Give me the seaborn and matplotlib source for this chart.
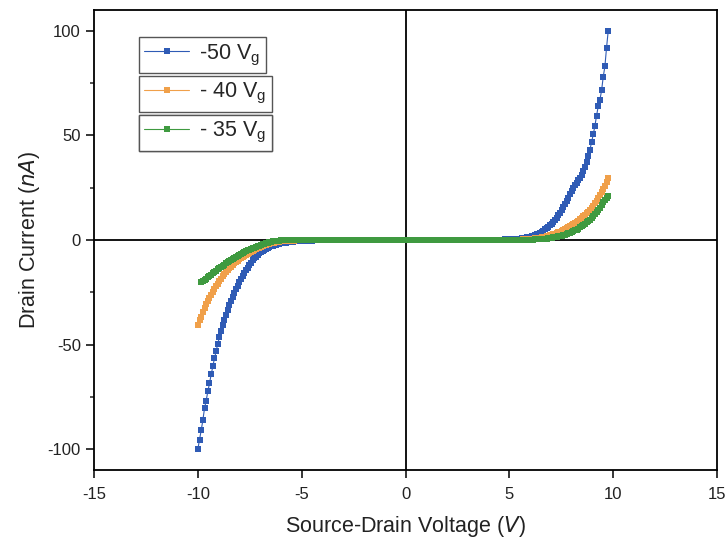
import numpy as np
import pandas as pd
import matplotlib
matplotlib.use("Agg")
import matplotlib.pyplot as plt
from matplotlib.lines import Line2D
from matplotlib.ticker import MultipleLocator
import seaborn as sns

# Sweep grid: source-drain voltage stepped by 0.08 V
V_STEP = 0.08
NEG_START = -10.0   # first point of the negative branch
MID_START = -4.96   # first point of the flat middle part
POS_START = 5.04    # first point of the positive branch

labels = ["-50 V$_{g}$", "- 40 V$_{g}$", "- 35 V$_{g}$"]
colors = ["#2f5bb5", "#f0a04a", "#3f9a40"]

# Drain current (nA), gate -50 V
blue_neg = [
    -100.0, -95.6, -91.0, -86.2, -80.5, -76.8, -72.4, -68.6, -64.3, -60.4,
    -56.6, -53.0, -49.6, -46.4, -43.5, -40.8, -38.2, -35.7, -33.4, -31.2,
    -29.1, -27.1, -25.2, -23.5, -21.8, -20.2, -18.7, -17.2, -15.8, -14.5,
    -13.2, -12.0, -10.9, -9.8, -8.8, -7.9, -7.1, -6.3, -5.7, -5.1,
    -4.6, -4.1, -3.7, -3.3, -3.0, -2.7, -2.4, -2.2, -2.0, -1.8,
    -1.6, -1.4, -1.3, -1.2, -1.1, -1.0, -0.9, -0.8, -0.7, -0.7,
    -0.6, -0.5, -0.5,
]
blue_mid = [
    -0.4, -0.4, -0.4, -0.3, -0.3, -0.3, -0.3, -0.2, -0.2, -0.2,
    -0.2, -0.2, -0.1, -0.1, -0.1, -0.1, -0.1, -0.1, -0.1, -0.1,
    0, 0, 0, 0, 0, 0, 0, 0, 0, 0, 0, 0, 0, 0, 0, 0, 0, 0, 0, 0,
    0, 0, 0, 0, 0, 0, 0, 0, 0, 0, 0, 0, 0, 0, 0, 0, 0, 0, 0, 0,
    0, 0, 0, 0, 0, 0, 0, 0, 0, 0, 0, 0, 0, 0, 0, 0, 0, 0, 0, 0,
    0, 0, 0, 0, 0, 0, 0, 0, 0, 0, 0, 0, 0, 0, 0, 0, 0, 0, 0, 0,
    0.0, 0.0, 0.0, 0.0, 0.0, 0.1, 0.1, 0.1, 0.1, 0.1,
    0.1, 0.1, 0.1, 0.1, 0.1, 0.2, 0.2, 0.2, 0.2, 0.2,
    0.2, 0.2, 0.3, 0.3, 0.3,
]
blue_pos = [
    0.3, 0.3, 0.4, 0.5, 0.5, 0.6, 0.7, 0.8, 0.9, 1.0,
    1.2, 1.4, 1.6, 1.8, 2.0, 2.3, 2.7, 3.1, 3.5, 4.0,
    4.5, 5.1, 5.7, 6.3, 7.0, 7.8, 8.7, 9.6, 10.7, 11.9,
    13.1, 14.4, 15.9, 17.3, 18.8, 20.3, 21.8, 23.3, 24.8, 26.2,
    27.5, 28.6, 29.8, 31.3, 33.0, 35.0, 37.2, 40.0, 43.2, 46.8,
    50.5, 54.6, 59.5, 64.0, 67.0, 71.5, 78.0, 83.0, 92.0, 100.0,
]

# Drain current (nA), gate -40 V
orange_neg = [
    -40.5, -38.4, -36.6, -34.5, -32.4, -30.8, -29.2, -27.5, -26.1, -24.8,
    -23.4, -22.1, -20.9, -19.7, -18.5, -17.4, -16.4, -15.4, -14.4, -13.5,
    -12.7, -11.9, -11.2, -10.5, -9.9, -9.3, -8.7, -8.1, -7.6, -7.1,
    -6.6, -6.1, -5.7, -5.2, -4.8, -4.4, -4.0, -3.6, -3.2, -2.9,
    -2.6, -2.3, -2.0, -1.8, -1.6, -1.4, -1.2, -1.0, -0.9, -0.8,
    -0.7, -0.6, -0.5, -0.5, -0.4, -0.4, -0.3, -0.3, -0.3, -0.2,
    -0.2, -0.2, -0.2,
]
orange_mid = [
    -0.1, -0.1, -0.1, -0.1, -0.1, -0.1, -0.1, -0.1, -0.1, -0.1,
    -0.1, -0.1, -0.1, -0.1, -0.1,
    0, 0, 0, 0, 0, 0, 0, 0, 0, 0, 0, 0, 0, 0, 0, 0, 0, 0, 0, 0,
    0, 0, 0, 0, 0, 0, 0, 0, 0, 0, 0, 0, 0, 0, 0, 0, 0, 0, 0, 0,
    0, 0, 0, 0, 0, 0, 0, 0, 0, 0, 0, 0, 0, 0, 0, 0, 0, 0, 0, 0,
    0, 0, 0, 0, 0, 0, 0, 0, 0, 0, 0, 0, 0, 0, 0, 0, 0, 0, 0, 0,
    0, 0, 0, 0, 0, 0, 0, 0, 0, 0, 0, 0, 0, 0, 0, 0, 0, 0, 0, 0,
    0, 0, 0, 0, 0, 0, 0, 0, 0, 0,
]
orange_pos = [
    0.0, 0.1, 0.1, 0.1, 0.1, 0.2, 0.2, 0.2, 0.3, 0.3,
    0.4, 0.4, 0.5, 0.6, 0.7, 0.8, 0.9, 1.0, 1.1, 1.3,
    1.4, 1.6, 1.8, 2.0, 2.2, 2.5, 2.7, 3.0, 3.3, 3.6,
    4.0, 4.4, 4.8, 5.2, 5.6, 6.1, 6.6, 7.1, 7.6, 8.1,
    8.7, 9.3, 9.9, 10.6, 11.3, 12.0, 12.8, 13.6, 14.5, 15.4,
    16.4, 17.5, 18.7, 20.0, 21.4, 22.9, 24.4, 26.0, 27.7, 29.5,
]

# Drain current (nA), gate -35 V (sweep starts at -9.84 V)
nan = np.nan
green_neg = [
    nan, nan, -20.3, -19.8, -19.1, -18.5, -17.9, -17.3, -16.6, -16.0,
    -15.4, -14.8, -14.1, -13.4, -12.9, -12.3, -11.8, -11.2, -10.7, -10.1,
    -9.6, -9.1, -8.6, -8.1, -7.6, -7.1, -6.7, -6.2, -5.8, -5.4,
    -5.0, -4.6, -4.2, -3.9, -3.6, -3.3, -3.0, -2.7, -2.4, -2.1,
    -1.8, -1.5, -1.3, -1.0, -0.8, -0.7, -0.5, -0.4, -0.3, -0.3,
    -0.2, -0.2, -0.1, -0.1, -0.1, -0.1, -0.1, -0.1, -0.1, -0.1,
    -0.1, -0.1, -0.1,
]
green_mid = [
    0, 0, 0, 0, 0, 0, 0, 0, 0, 0, 0, 0, 0, 0, 0, 0, 0, 0, 0, 0, 0, 0, 0, 0, 0,
    0, 0, 0, 0, 0, 0, 0, 0, 0, 0, 0, 0, 0, 0, 0, 0, 0, 0, 0, 0, 0, 0, 0, 0, 0,
    0, 0, 0, 0, 0, 0, 0, 0, 0, 0, 0, 0, 0, 0, 0, 0, 0, 0, 0, 0, 0, 0, 0, 0, 0,
    0, 0, 0, 0, 0, 0, 0, 0, 0, 0, 0, 0, 0, 0, 0, 0, 0, 0, 0, 0, 0, 0, 0, 0, 0,
    0, 0, 0, 0, 0, 0, 0, 0, 0, 0, 0, 0, 0, 0, 0, 0, 0, 0, 0, 0, 0, 0, 0, 0, 0,
]
green_pos = [
    0.0, 0.0, 0.0, 0.0, 0.1, 0.1, 0.1, 0.1, 0.1, 0.1,
    0.1, 0.2, 0.2, 0.2, 0.2, 0.3, 0.3, 0.3, 0.4, 0.4,
    0.5, 0.6, 0.7, 0.8, 0.9, 1.0, 1.2, 1.3, 1.5, 1.7,
    1.9, 2.1, 2.4, 2.6, 2.9, 3.2, 3.5, 3.8, 4.2, 4.6,
    5.0, 5.5, 6.0, 6.6, 7.2, 7.8, 8.4, 9.1, 9.8, 10.6,
    11.5, 12.4, 13.4, 14.4, 15.5, 16.8, 18.0, 19.0, 20.0, 21.0,
]

series = {
    labels[0]: (blue_neg, blue_mid, blue_pos),
    labels[1]: (orange_neg, orange_mid, orange_pos),
    labels[2]: (green_neg, green_mid, green_pos),
}


def sweep(start, values):
    return np.round(start + V_STEP * np.arange(len(values)), 2)


frames = []
for name, (neg, mid, pos) in series.items():
    v = np.concatenate([sweep(NEG_START, neg), sweep(MID_START, mid), sweep(POS_START, pos)])
    i = np.concatenate([neg, mid, pos]).astype(float)
    frames.append(pd.DataFrame({"V": v, "I": i, "gate": name}))
df = pd.concat(frames, ignore_index=True).dropna()

sns.set_theme(style="ticks")
plt.rcParams["font.family"] = ["Liberation Sans", "DejaVu Sans"]
plt.rcParams["mathtext.default"] = "regular"
plt.rcParams["axes.unicode_minus"] = False

fig = plt.figure(figsize=(7.25, 5.43), dpi=100)
ax = fig.add_axes([0.1297, 0.1344, 0.8593, 0.8472])

ax.axhline(0, color="black", lw=1.3, zorder=1)
ax.axvline(0, color="black", lw=1.3, zorder=1)

sns.lineplot(
    data=df, x="V", y="I", hue="gate", hue_order=labels, palette=colors,
    marker="s", markersize=4.2, markeredgewidth=0, linewidth=0.8,
    sort=False, estimator=None, legend=False, ax=ax, zorder=3,
)

ax.set_xlim(-15, 15)
ax.set_ylim(-110, 110)
ax.xaxis.set_major_locator(MultipleLocator(5))
ax.yaxis.set_major_locator(MultipleLocator(50))
ax.yaxis.set_minor_locator(MultipleLocator(25))
ax.tick_params(axis="both", which="major", direction="out", length=6, width=1.1,
               labelsize=12, color="black", labelcolor="#222222")
ax.tick_params(axis="x", which="major", pad=6)
ax.tick_params(axis="y", which="minor", direction="out", length=3, width=1.1)
for sp in ax.spines.values():
    sp.set_linewidth(1.3)
    sp.set_color("black")

ax.set_xlabel("Source-Drain Voltage ($\\mathit{V}$)", fontsize=15.5, color="#222222", labelpad=9)
ax.set_ylabel("Drain Current ($\\mathit{nA}$)", fontsize=15.5, color="#222222", labelpad=4)

# One framed legend box per gate voltage, stacked at upper left
tops = [0.941, 0.857, 0.772]
for lab, col, top in zip(labels, colors, tops):
    handle = Line2D([], [], color=col, lw=0.8, marker="s", markersize=4.2, markeredgewidth=0)
    leg = ax.legend(
        handles=[handle], labels=[lab], loc="upper left", bbox_to_anchor=(0.072, top),
        frameon=True, fancybox=False, framealpha=1, edgecolor="#555555",
        fontsize=15.5, handlelength=2.1, handletextpad=0.45, borderpad=0.25,
        borderaxespad=0, numpoints=1,
    )
    leg.get_frame().set_linewidth(1.0)
    ax.add_artist(leg)

fig.savefig("out.png", dpi=100, facecolor="white")
